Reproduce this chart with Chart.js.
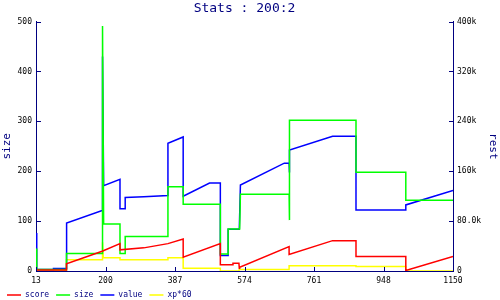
<!DOCTYPE html>
<html>
<head>
<meta charset="utf-8">
<script src="https://cdn.jsdelivr.net/npm/chart.js@4/dist/chart.umd.min.js"></script>
<style>
  html, body { margin: 0; padding: 0; background: #fff; }
  #wrap { width: 500px; height: 300px; }
</style>
</head>
<body>
<div id="wrap"><canvas id="stats" width="500" height="300"></canvas></div>
<script>
// tick positions on the x axis and the text printed under them
const xTickVals = [13, 200, 387, 574, 761, 948, 1135];
const xTickLabels = ['13', '200', '387', '574', '761', '948', '1150'];

// [x, y] pairs; size on left axis, the rest in k on right axis
const scorePts = [[13, 1.6], [94, 1.6], [95, 11.5], [191, 31.6], [239, 43.9], [239, 33.9], [303, 37.1],
  [368, 43.9], [409, 51.4], [409, 22], [509, 43.9], [509, 9.9], [543, 9.9], [543, 12.5], [559, 12.5],
  [560, 4.5], [561, 6], [694, 39.1], [694, 26.4], [811, 48.7], [874, 48.7], [874, 23.2], [1008, 23.2],
  [1008, 0.8], [1135, 23.2]];
const sizePts = [[13, 45], [15, 3], [94, 3], [95, 35], [191, 35], [192, 491], [195, 94], [239, 94],
  [239, 35], [253, 35], [253, 69], [368, 69], [368, 169], [409, 169], [409, 134], [509, 134], [509, 34],
  [530, 34], [530, 84], [561, 84], [563, 154], [694, 154], [694, 102], [696, 302], [874, 302], [874, 198],
  [1008, 198], [1008, 142], [1135, 142]];
const valuePts = [[13, 61], [15, 61], [15, 2.4], [60, 2.4], [60, 4], [94, 4], [94, 36], [96, 36], [96, 77],
  [191, 97], [192, 344], [195, 137], [239, 147], [239, 100], [253, 100], [253, 118], [303, 119], [368, 121],
  [368, 205], [409, 215], [409, 120], [480, 141], [509, 141], [509, 25], [530, 25], [530, 67], [560, 67],
  [563, 138], [681, 173], [694, 173], [694, 158], [696, 194], [811, 216], [874, 216], [874, 98], [1008, 98],
  [1008, 106], [1135, 129]];
const xpPts = [[13, 0.8], [94, 0.8], [95, 17.9], [191, 17.9], [192, 46], [194, 21.1], [239, 21.1],
  [239, 17.9], [368, 17.9], [368, 21.1], [409, 21.1], [409, 4.5], [509, 4.5], [509, 0], [559, 0], [560, 2.4],
  [694, 2.4], [694, 8.3], [874, 8.3], [874, 7.2], [1008, 7.2], [1008, 0], [1135, 0]];

const NAVY = '#000080';
const MONO = 'DejaVu Sans Mono';

const toXY = pts => pts.map(p => ({ x: p[0], y: p[1] }));

const line = (label, pts, color, axis) => ({
    label: label,
    data: toXY(pts),
    borderColor: color,
    backgroundColor: color,
    borderWidth: 1.5,
    pointRadius: 0,
    tension: 0,
    fill: false,
    yAxisID: axis,
});

// tick marks point into the plot, so draw them ourselves from the scales
const innerTicks = {
    id: 'innerTicks',
    afterDraw(chart) {
        const ctx = chart.ctx;
        const a = chart.chartArea;
        ctx.save();
        ctx.strokeStyle = NAVY;
        ctx.lineWidth = 1;
        ctx.beginPath();
        chart.scales.x.ticks.forEach(t => {
            const px = Math.round(chart.scales.x.getPixelForValue(t.value)) + 0.5;
            ctx.moveTo(px, a.bottom);
            ctx.lineTo(px, a.bottom - 4);
        });
        chart.scales.y.ticks.forEach(t => {
            const py = Math.round(chart.scales.y.getPixelForValue(t.value)) + 0.5;
            ctx.moveTo(a.left, py);
            ctx.lineTo(a.left + 5, py);
        });
        chart.scales.y1.ticks.forEach(t => {
            const py = Math.round(chart.scales.y1.getPixelForValue(t.value)) + 0.5;
            ctx.moveTo(a.right, py);
            ctx.lineTo(a.right - 4, py);
        });
        ctx.stroke();
        ctx.restore();
    }
};

const ctx = document.querySelector('#stats');
const statsChart = new Chart(ctx, {
    type: 'line',
    data: {
        datasets: [
            line('score', scorePts, '#ff0000', 'y1'),
            line('size', sizePts, '#00ff00', 'y'),
            line('value', valuePts, '#0000ff', 'y1'),
            line('xp*60', xpPts, '#ffff00', 'y1'),
        ]
    },
    options: {
        responsive: false,
        animation: false,
        layout: { padding: { left: 0, right: 0, top: 0, bottom: -9 } },
        plugins: {
            title: {
                display: true,
                fullSize: false,
                text: 'Stats : 200:2',
                color: NAVY,
                font: { family: MONO, size: 13, weight: 'normal' },
                padding: { top: 1, bottom: 5 },
            },
            legend: {
                position: 'bottom',
                align: 'start',
                labels: {
                    color: NAVY,
                    font: { family: MONO, size: 8 },
                    usePointStyle: true,
                    pointStyle: 'line',
                    pointStyleWidth: 14,
                    padding: 7,
                },
            },
            tooltip: { enabled: false },
        },
        scales: {
            x: {
                type: 'linear',
                min: 13,
                max: 1135,
                afterBuildTicks: s => { s.ticks = xTickVals.map(v => ({ value: v })); },
                afterFit: s => { s.height = 13; },
                ticks: {
                    autoSkip: false,
                    maxRotation: 0,
                    padding: 5,
                    color: '#000',
                    font: { family: MONO, size: 8 },
                    callback: (v, i) => xTickLabels[i],
                },
                grid: { display: false, drawTicks: false },
                border: { display: true, color: NAVY, width: 1 },
            },
            y: {
                position: 'left',
                min: 0,
                max: 500,
                afterFit: s => { s.width = 36; },
                ticks: { stepSize: 100, padding: 4, color: '#000', font: { family: MONO, size: 8 } },
                grid: { display: false, drawTicks: false },
                border: { display: true, color: NAVY, width: 1 },
                title: { display: true, text: 'size', color: NAVY, font: { family: MONO, size: 11 }, padding: 1 },
            },
            y1: {
                position: 'right',
                min: 0,
                max: 400,
                afterFit: s => { s.width = 47; },
                ticks: {
                    stepSize: 80,
                    padding: 4,
                    color: '#000',
                    font: { family: MONO, size: 8 },
                    callback: v => v === 0 ? '0' : (v < 100 ? v.toFixed(1) : v.toFixed(0)) + 'k',
                },
                grid: { display: false, drawTicks: false },
                border: { display: true, color: NAVY, width: 1 },
                title: { display: true, text: 'rest', color: NAVY, font: { family: MONO, size: 11 }, padding: 1 },
            },
        },
    },
    plugins: [innerTicks],
});
</script>
</body>
</html>
